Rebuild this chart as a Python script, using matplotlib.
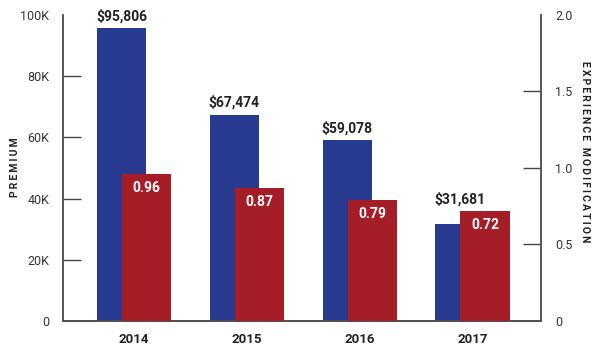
import matplotlib
matplotlib.use("Agg")
import matplotlib.pyplot as plt
import numpy as np

years = ["2014", "2015", "2016", "2017"]
premium = [95806, 67474, 59078, 31681]
emod = [0.96, 0.87, 0.79, 0.72]
left_ticks = [0, 20000, 40000, 60000, 80000, 100000]
left_labels = ["0", "20K", "40K", "60K", "80K", "100K"]
right_ticks = [0, 0.5, 1.0, 1.5, 2.0]
right_labels = ["0", "0.5", "1.0", "1.5", "2.0"]

BLUE = "#283A8F"
RED = "#A51D26"
plt.rcParams['font.family'] = ['Roboto', 'DejaVu Sans']

fig = plt.figure(figsize=(6, 3.55), dpi=100)
ax = fig.add_axes([0.105, 0.0958, 0.797, 0.862])
ax2 = ax.twinx()

x = np.arange(len(years))
w = 0.436
off = 0.111
ax.bar(x - off, premium, width=w, color=BLUE, zorder=2)
ax2.bar(x + off, emod, width=w, color=RED, zorder=3)

ax.set_xlim(-0.63, 3.61)
ax.set_ylim(0, 100000)
ax2.set_ylim(0, 2.0)

scale = 100000 / 2.0
for xi, v, e in zip(x, premium, emod):
    top = max(v, e * scale)
    ax2.text(xi - off, top + 1500, f"${v:,}", ha="center", va="bottom",
             fontsize=10, fontweight="bold", color="#222222",
             transform=ax.transData, zorder=6)
for xi, v in zip(x, emod):
    ax2.text(xi + off, v - 0.045, f"{v:.2f}", ha="center", va="top",
             fontsize=10, fontweight="bold", color="white", zorder=5)

ax.set_xticks(x)
ax.set_xticklabels(years, fontsize=9.5, fontweight="bold", color="#222222")
ax.tick_params(axis="x", length=0, pad=9)

ax.set_yticks(left_ticks)
ax.set_yticklabels(left_labels, fontsize=9, color="#333333")
ax.tick_params(axis="y", direction="in", length=13, width=1, color="#444444", pad=10)
ax2.set_yticks(right_ticks)
ax2.set_yticklabels(right_labels, fontsize=9, color="#333333")
ax2.tick_params(axis="y", direction="in", length=13, width=1, color="#444444", pad=10)

for a in (ax, ax2):
    a.spines["top"].set_visible(False)
    for s in ("left", "right", "bottom"):
        a.spines[s].set_color("#555555")
        a.spines[s].set_linewidth(1.2)
ax.spines["bottom"].set_color("#222222")

for t in ax.yaxis.get_major_ticks()[::5]:
    t.tick1line.set_visible(False)
for t in ax2.yaxis.get_major_ticks()[::4]:
    t.tick2line.set_visible(False)

def spaced(s):
    return "\u2009".join(s)

fig.text(0.025, 0.53, spaced("PREMIUM"), rotation=90, ha="center", va="center",
         fontsize=7.5, fontweight="bold", color="#222222")
fig.text(0.975, 0.572, spaced("EXPERIENCE MODIFICATION"), rotation=-90, ha="center", va="center",
         fontsize=7.5, fontweight="bold", color="#222222")

fig.savefig("out.png", dpi=100)
